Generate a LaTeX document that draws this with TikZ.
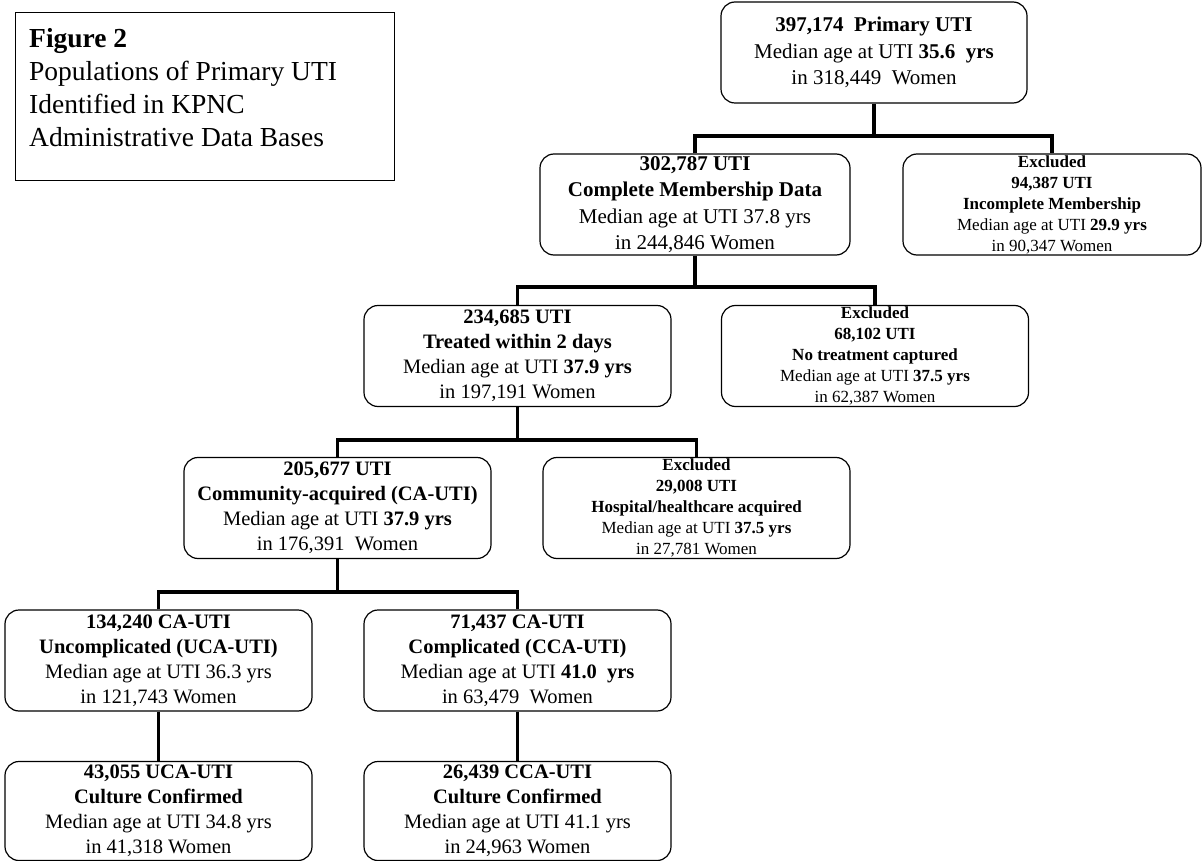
\documentclass[tikz,border=0pt]{standalone}
\usepackage{fontspec}
\setmainfont{Liberation Serif}
\usetikzlibrary{positioning}

\begin{document}
\begin{tikzpicture}[x=1pt,y=-1pt,
                main node/.style={draw,line width=1.2pt,rounded corners=14pt,minimum width=307pt,minimum height=101pt,
                  inner sep=0pt,align=center,font=\fontsize{20.5}{25}\selectfont},
                big node/.style={main node,font=\fontsize{21}{26.5}\selectfont},
                excl node/.style={main node,inner ysep=-2pt,font=\fontsize{17}{21}\selectfont},
                link/.style={line width=3.6pt}]
  \useasboundingbox (0,0) rectangle (1203,861);

  \node[draw,line width=1.2pt,minimum width=379pt,minimum height=168pt,anchor=north west] (title) at (15,12) {};
  \node[anchor=north west,align=left,inner sep=0pt,font=\fontsize{27.5}{33}\selectfont] (titletext) at (29,28)
    {\textbf{Figure 2}\\Populations of Primary UTI\\Identified in KPNC\\Administrative Data Bases};

  \node[big node,minimum width=306pt] (primary) at (874,52.5)
    {\textbf{397,174\ \ Primary UTI}\\Median age at UTI \textbf{35.6\ \ yrs}\\in 318,449\ \ Women};
  \node[big node,minimum width=310pt] (complete) at (695,204.5)
    {\textbf{302,787 UTI}\\\textbf{Complete Membership Data}\\Median age at UTI 37.8 yrs\\in 244,846 Women};
  \node[excl node,minimum width=298pt] (exmember) at (1052,204.5)
    {\textbf{Excluded}\\\textbf{94,387 UTI}\\\textbf{Incomplete Membership}\\Median age at UTI \textbf{29.9 yrs}\\in 90,347 Women};
  \node[main node] (treated) at (517.5,356)
    {\textbf{234,685 UTI}\\\textbf{Treated within 2 days}\\Median age at UTI \textbf{37.9 yrs}\\in 197,191 Women};
  \node[excl node] (extreat) at (875,356)
    {\textbf{Excluded}\\\textbf{68,102 UTI}\\\textbf{No treatment captured}\\Median age at UTI \textbf{37.5 yrs}\\in 62,387 Women};
  \node[main node] (community) at (337.5,508)
    {\textbf{205,677 UTI}\\\textbf{Community-acquired (CA-UTI)}\\Median age at UTI \textbf{37.9 yrs}\\in 176,391\ \ Women};
  \node[excl node] (exhosp) at (696.5,508)
    {\textbf{Excluded}\\\textbf{29,008 UTI}\\\textbf{Hospital/healthcare acquired}\\Median age at UTI \textbf{37.5 yrs}\\in 27,781 Women};
  \node[main node] (uncomp) at (158.5,660.5)
    {\textbf{134,240 CA-UTI}\\\textbf{Uncomplicated (UCA-UTI)}\\Median age at UTI 36.3 yrs\\in 121,743 Women};
  \node[main node] (comp) at (517.5,660.5)
    {\textbf{71,437 CA-UTI}\\\textbf{Complicated (CCA-UTI)}\\Median age at UTI \textbf{41.0\ \ yrs}\\in 63,479\ \ Women};
  \node[main node,minimum height=99pt] (uncult) at (158.5,811)
    {\textbf{43,055 UCA-UTI}\\\textbf{Culture Confirmed}\\Median age at UTI 34.8 yrs\\in 41,318 Women};
  \node[main node,minimum height=99pt] (compcult) at (517.5,811)
    {\textbf{26,439 CCA-UTI}\\\textbf{Culture Confirmed}\\Median age at UTI 41.1 yrs\\in 24,963 Women};

  \coordinate (split1) at (874,136);
  \coordinate (split2) at (695,287);
  \coordinate (split3) at (517.5,440);
  \coordinate (split4) at (337.5,592);

  \draw[link] (complete.north) |- (split1) -| (exmember.north);
  \draw[link] (treated.north) |- (split2) -| (extreat.north);
  \draw[link] (community.north) |- (split3) -| (exhosp.north);
  \draw[link] (uncomp.north) |- (split4) -| (comp.north);

  \path[link]
    (primary) edge (split1)
    (complete) edge (split2)
    (treated) edge (split3)
    (community) edge (split4)
    (uncomp) edge (uncult)
    (comp) edge (compcult)
  ;
\end{tikzpicture}
\end{document}
